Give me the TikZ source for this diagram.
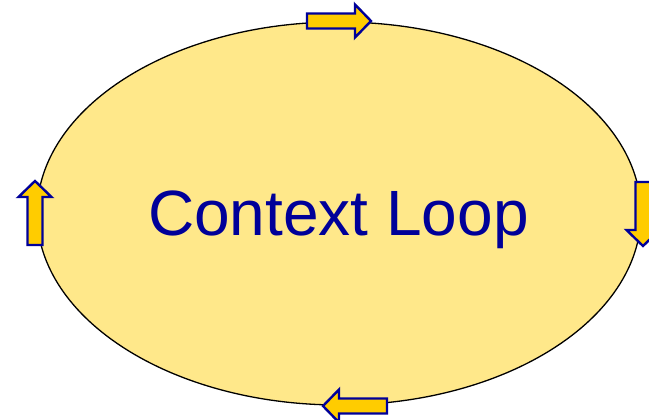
\documentclass[tikz,border=0pt]{standalone}
\usepackage{fontspec}
\setmainfont{Liberation Sans}
\usetikzlibrary{shapes.geometric}
\definecolor{loopfill}{RGB}{255,232,138}
\definecolor{arrfill}{RGB}{255,204,0}
\definecolor{darkblue}{RGB}{0,0,153}
\begin{document}
\begin{tikzpicture}[x=1pt,y=1pt,
  loopshape/.style={draw=black, line width=1.3pt, fill=loopfill},
  arrowshape/.style={draw=darkblue, line width=2.4pt, fill=arrfill, line join=miter},
  looptext/.style={text=darkblue, font=\fontsize{64}{70}\selectfont, inner sep=0pt}]
\useasboundingbox (0,0) rectangle (649,420);
\fill[white] (0,0) rectangle (649,420);
\node[loopshape, ellipse, minimum width=604pt, minimum height=383pt, inner sep=0pt] (loop) at (339,206.5) {};
\node[looptext, anchor=base] (label) at (338.5,184) {Context Loop};
% top arrow (pointing right)
\draw[arrowshape, shift={(307,399)}, rotate=0] (0,-7.5) -- (48,-7.5) -- (48,-16.5) -- (64,0) -- (48,16.5) -- (48,7.5) -- (0,7.5) -- cycle;
% right arrow (pointing down)
\draw[arrowshape, shift={(643,238)}, rotate=-90] (0,-7.5) -- (48,-7.5) -- (48,-16.5) -- (64,0) -- (48,16.5) -- (48,7.5) -- (0,7.5) -- cycle;
% bottom arrow (pointing left)
\draw[arrowshape, shift={(387,14)}, rotate=180] (0,-7.5) -- (48,-7.5) -- (48,-16.5) -- (64,0) -- (48,16.5) -- (48,7.5) -- (0,7.5) -- cycle;
% left arrow (pointing up)
\draw[arrowshape, shift={(35,175)}, rotate=90] (0,-7.5) -- (48,-7.5) -- (48,-16.5) -- (64,0) -- (48,16.5) -- (48,7.5) -- (0,7.5) -- cycle;
\end{tikzpicture}
\end{document}
